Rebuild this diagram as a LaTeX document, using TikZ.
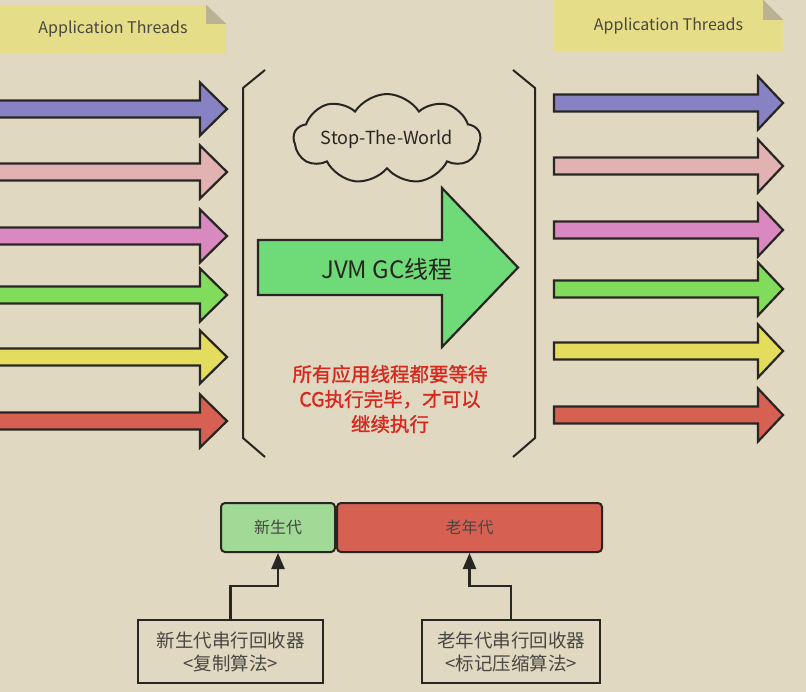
\documentclass[tikz,border=0pt]{standalone}
\usepackage{fontspec}
\setmainfont{Noto Sans CJK SC}
\newfontfamily\alertfont[FakeBold=1.2]{Noto Sans CJK SC}
\usepackage{tikz}
\usetikzlibrary{shapes,shapes.symbols,arrows.meta,positioning,calc}
\definecolor{stwPaper}{RGB}{224,216,192}
\definecolor{stwNote}{RGB}{230,221,136}
\definecolor{stwFold}{RGB}{187,178,150}
\definecolor{stwInk}{RGB}{40,38,34}
\definecolor{stwBlue}{RGB}{134,130,196}
\definecolor{stwPink}{RGB}{226,178,178}
\definecolor{stwMagenta}{RGB}{218,136,192}
\definecolor{stwGreen}{RGB}{130,220,92}
\definecolor{stwYellow}{RGB}{228,220,92}
\definecolor{stwRed}{RGB}{214,96,82}
\definecolor{stwGC}{RGB}{110,218,120}
\definecolor{stwYoung}{RGB}{160,218,150}
\definecolor{stwAlert}{RGB}{215,40,30}

\begin{document}
\begin{tikzpicture}[x=1pt,y=-1pt,
  thread/.style={draw=stwInk,line width=2.2pt,line join=miter,fill=#1},
  note/.style={rectangle,fill=stwNote,inner sep=0pt,font=\fontsize{16}{19}\selectfont,
               text=stwInk!85},
  gen/.style={rectangle,rounded corners=4pt,draw=stwInk,line width=2pt,fill=#1,
              minimum height=49pt,inner sep=0pt,font=\fontsize{16}{19}\selectfont,
              text=stwInk!85},
  collector/.style={rectangle,draw=stwInk,line width=2pt,fill=stwPaper,
                    minimum height=63pt,align=center,inner sep=0pt,
                    font=\fontsize{18.5}{23}\selectfont,text=stwInk!85},
  conn/.style={draw=stwInk,line width=2.4pt,-{Triangle[length=16pt,width=13pt]}},
  brace/.style={draw=stwInk,line width=2pt,line join=miter}
]
\useasboundingbox (0,0) rectangle (806,692);
\fill[stwPaper] (0,0) rectangle (806,692);
\clip (0,0) rectangle (806,692);

% Notes
\node[note,minimum width=226pt,minimum height=48pt] (leftNote) at (113,29)
  {Application Threads};
\node[note,minimum width=229pt,minimum height=51pt] (rightNote) at (668.5,25.5)
  {Application Threads};
\fill[stwPaper] ($(leftNote.north east)+(-20,0)$) -- (leftNote.north east)
  -- ($(leftNote.north east)+(0,19)$) -- cycle;
\fill[stwFold] ($(leftNote.north east)+(-20,0)$) -- ($(leftNote.north east)+(-20,19)$)
  -- ($(leftNote.north east)+(0,19)$) -- cycle;
\fill[stwPaper] ($(rightNote.north east)+(-20,0)$) -- (rightNote.north east)
  -- ($(rightNote.north east)+(0,20)$) -- cycle;
\fill[stwFold] ($(rightNote.north east)+(-20,0)$) -- ($(rightNote.north east)+(-20,20)$)
  -- ($(rightNote.north east)+(0,20)$) -- cycle;

% Application threads, before and after the pause
\foreach \y/\col in {109/stwBlue,172/stwPink,236/stwMagenta,
                     295/stwGreen,357/stwYellow,421/stwRed}
{
  \draw[thread=\col] (-5,\y-8.5) -- (200,\y-8.5) -- (200,\y-26.5) -- (227,\y)
    -- (200,\y+26.5) -- (200,\y+8.5) -- (-5,\y+8.5) -- cycle;
}
\foreach \y/\col in {103/stwBlue,166/stwPink,230/stwMagenta,
                     289/stwGreen,351/stwYellow,415/stwRed}
{
  \draw[thread=\col] (554,\y-8.5) -- (758,\y-8.5) -- (758,\y-26.5) -- (783,\y)
    -- (758,\y+26.5) -- (758,\y+8.5) -- (554,\y+8.5) -- cycle;
}

% Brackets
\draw[brace] (265,70) -- (243,88) -- (243,438) -- (265,457);
\draw[brace] (513,70) -- (535,88) -- (535,438) -- (513,457);

% Pause
\node[cloud,cloud puffs=9,cloud puff arc=115,aspect=3.2,draw=stwInk,line width=2pt,
      fill=stwPaper,inner sep=0pt,minimum width=140pt,minimum height=40pt,
      font=\fontsize{18}{21}\selectfont,text=stwInk]
  (stw) at (387,139) {Stop-The-World};
\draw[thread=stwGC] (258,240) -- (442,240) -- (442,188) -- (518,267.5)
  -- (442,347) -- (442,295) -- (258,295) -- cycle;
\node[font=\fontsize{24}{28}\selectfont,text=stwInk] (gc) at (387,269) {JVM GC线程};
\node[align=center,font=\alertfont\fontsize{19.5}{25}\selectfont,text=stwAlert]
  (wait) at (390,399) {所有应用线程都要等待\\CG执行完毕，才可以\\继续执行};

% Heap generations and their collectors
\node[gen=stwYoung,minimum width=114pt] (young) at (278,527.5) {新生代};
\node[gen=stwRed,minimum width=265pt,right=0pt of young] (old) {老年代};
\node[collector,minimum width=185pt] (youngGC) at (230.5,651.5)
  {新生代串行回收器\\<复制算法>};
\node[collector,minimum width=178pt] (oldGC) at (511,651.5)
  {老年代串行回收器\\<标记压缩算法>};
\draw[conn] (youngGC.north) -- ++(0,-33) -| (young.south);
\draw[conn] (oldGC.north) -- ++(0,-33) -| (old.south);
\end{tikzpicture}
\end{document}
